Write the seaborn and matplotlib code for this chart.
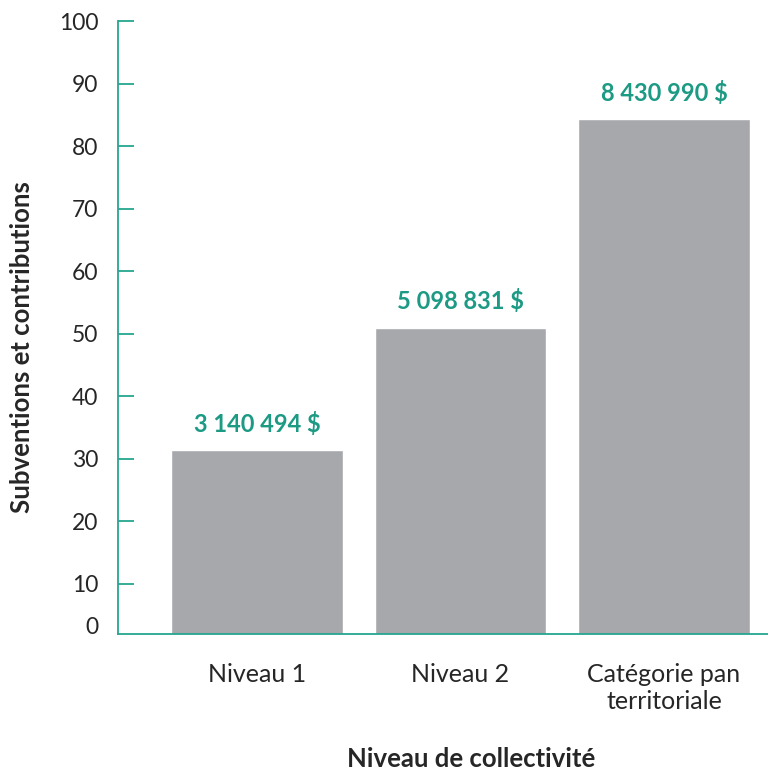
import matplotlib
matplotlib.use("Agg")
import matplotlib.pyplot as plt
import matplotlib.transforms as mtransforms
import seaborn as sns
import pandas as pd

# data
categories = ["Niveau 1", "Niveau 2", "Catégorie pan\nterritoriale"]
amounts = [3140494, 5098831, 8430990]
amount_labels = ["3 140 494 $", "5 098 831 $", "8 430 990 $"]
ytick_values = [10, 20, 30, 40, 50, 60, 70, 80, 90, 100]

teal = "#26a690"
label_teal = "#1c9a84"
bar_grey = "#a7a8ac"

sns.set_style("white")
plt.rcParams["font.family"] = ["Lato", "DejaVu Sans"]

df = pd.DataFrame({"cat": categories, "val": [a / 100000 for a in amounts]})

fig = plt.figure(figsize=(7.68, 7.72), dpi=100)
ax = fig.add_axes([118 / 768, 1 - 634 / 772, 1 - 118 / 768, (634 - 21) / 772])
sns.barplot(data=df, x="cat", y="val", color=bar_grey, width=0.845, saturation=1, ax=ax)

ax.set_xlim(-0.683, 2.511)
ax.set_ylim(2, 100)
ax.set_yticks(ytick_values)
ax.set_yticklabels([str(v) for v in ytick_values])
# the zero label sits just above the base line in the original
ax.text(-20 / 650, 3.1, "0", transform=mtransforms.blended_transform_factory(ax.transAxes, ax.transData),
        ha="right", va="center", fontsize=16.5)

for i, (v, lab) in enumerate(zip(df["val"], amount_labels)):
    ax.text(i, v + 2.3, lab, ha="center", va="bottom", color=label_teal,
            fontsize=17, fontweight="bold")

for s in ["top", "right"]:
    ax.spines[s].set_visible(False)
for s in ["left", "bottom"]:
    ax.spines[s].set_color(teal)
    ax.spines[s].set_linewidth(1.3)

ax.tick_params(axis="y", direction="in", length=11.5, width=1.3, color=teal,
               pad=14, labelsize=16.5, left=True)
ax.tick_params(axis="x", length=0, pad=21, labelsize=18)

ax.set_xlabel("")
ax.set_ylabel("")
fig.text(471 / 768, 1 - 759 / 772, "Niveau de collectivité", ha="center", va="center",
         fontsize=18.5, fontweight="bold")
fig.text(22 / 768, 1 - 347 / 772, "Subventions et contributions", ha="center", va="center",
         rotation=90, fontsize=18.5, fontweight="bold")

fig.savefig("out.png", dpi=100)
